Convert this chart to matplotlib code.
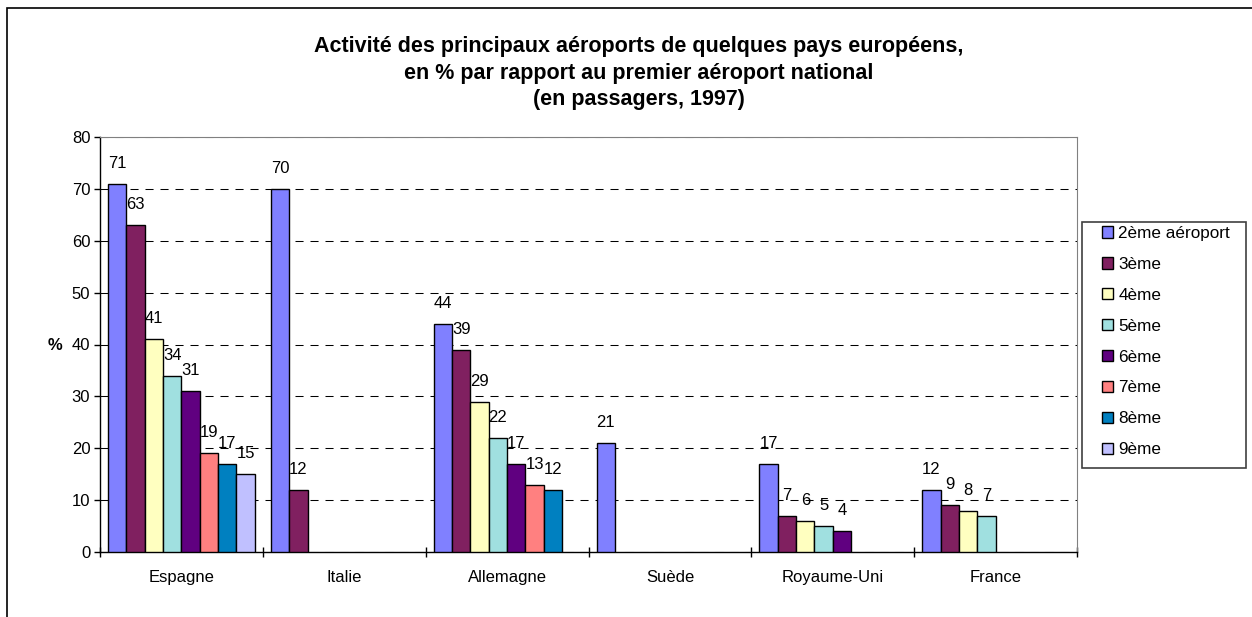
import matplotlib.pyplot as plt
from matplotlib.patches import Rectangle
import numpy as np

plt.rcParams['font.family'] = ['Liberation Sans', 'DejaVu Sans']
plt.rcParams['lines.scale_dashes'] = False

W, H = 1252, 617

countries = ['Espagne', 'Italie', 'Allemagne', 'Suède', 'Royaume-Uni', 'France']
ranks = ['2ème aéroport', '3ème', '4ème', '5ème', '6ème', '7ème', '8ème', '9ème']
colors = ['#8080FF', '#802060', '#FFFFC0', '#A0E0E0', '#600080', '#FF8080', '#0080C0', '#C0C0FF']

# one list per country, missing ranks as None
espagne = [71, 63, 41, 34, 31, 19, 17, 15]
italie = [70, 12, None, None, None, None, None, None]
allemagne = [44, 39, 29, 22, 17, 13, 12, None]
suede = [21, None, None, None, None, None, None, None]
royaume_uni = [17, 7, 6, 5, 4, None, None, None]
france = [12, 9, 8, 7, None, None, None, None]
values = [espagne, italie, allemagne, suede, royaume_uni, france]

fig = plt.figure(figsize=(W / 100, H / 100), dpi=100)
ax = fig.add_axes([100 / W, 1 - 552 / H, 977 / W, 415 / H])

bar_w = 0.1125
offset = 0.05
handles = []
for j, rank in enumerate(ranks):
    xs, ys = [], []
    for i, row in enumerate(values):
        if row[j] is not None:
            xs.append(i + offset + (j + 0.5) * bar_w)
            ys.append(row[j])
    bars = ax.bar(xs, ys, width=bar_w, color=colors[j], edgecolor='black',
                  linewidth=1, label=rank, zorder=3)
    handles.append(bars)
    for x, y in zip(xs, ys):
        ax.annotate(str(y), (x, y), xytext=(0, 11.5), textcoords='offset points',
                    ha='center', va='baseline', fontsize=12, zorder=4)

ax.set_xlim(0, 6)
ax.set_ylim(0, 80)
ax.set_yticks(np.arange(0, 81, 10))
ax.tick_params(axis='y', direction='out', length=4, width=1, pad=3, labelsize=12)
ax.set_xticks(np.arange(0, 7))
ax.set_xticklabels([])
ax.tick_params(axis='x', which='major', direction='inout', length=7, width=1)
ax.set_xticks(np.arange(6) + 0.5, minor=True)
ax.set_xticklabels(countries, minor=True)
ax.tick_params(axis='x', which='minor', length=0, pad=13, labelsize=12)

ax.yaxis.grid(True, color='black', linewidth=0.75, linestyle=(0, (5.8, 5)), zorder=1)
ax.set_axisbelow(True)
for s in ['top', 'right']:
    ax.spines[s].set_color('#808080')
for s in ['left', 'bottom']:
    ax.spines[s].set_color('black')
    ax.spines[s].set_linewidth(1)

fig.text(639 / W, 1 - 73 / H,
         'Activité des principaux aéroports de quelques pays européens,\n'
         'en % par rapport au premier aéroport national\n(en passagers, 1997)',
         ha='center', va='center', fontsize=15.5, weight='bold', linespacing=1.35)
fig.text(55 / W, 1 - 345 / H, '%', ha='center', va='center', fontsize=12, weight='bold')

leg = fig.legend(handles=handles, labels=ranks, loc='upper left',
                 bbox_to_anchor=(1102 / W, 1 - 226 / H), bbox_transform=fig.transFigure,
                 frameon=False, borderpad=0, borderaxespad=0, fontsize=12.3,
                 handlelength=0.65, handleheight=0.65, handletextpad=0.3,
                 labelspacing=0.93)

fig.patches.append(Rectangle((1082 / W, 1 - 468 / H), 164 / W, 246 / H,
                             transform=fig.transFigure, fill=False,
                             edgecolor='#404040', linewidth=1.2))
fig.patches.append(Rectangle((7 / W, -0.2), 1.3, 1.2 - 8 / H,
                             transform=fig.transFigure, fill=False,
                             edgecolor='black', linewidth=1.2))

fig.savefig('out.png', dpi=100)
